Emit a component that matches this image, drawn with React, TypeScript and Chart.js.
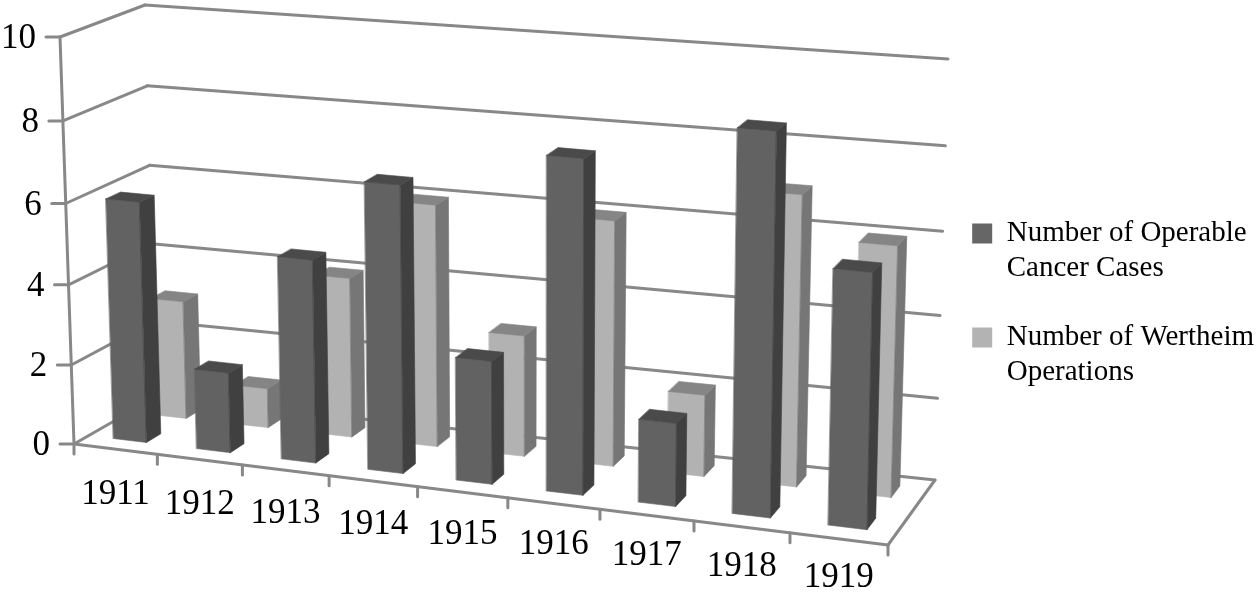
import React, { useEffect, useRef } from "react";
import { Chart, registerables } from "chart.js";

Chart.register(...registerables);

const categories = ["1911", "1912", "1913", "1914", "1915", "1916", "1917", "1918", "1919"];
const operableCases = [6, 2, 5, 7, 3, 8, 2, 9, 6];
const wertheimOps = [3, 1, 4, 6, 3, 6, 2, 7, 6];
const seriesNames = [["Number of Operable", "Cancer Cases"], ["Number of Wertheim", "Operations"]];

type P = [number, number];
// perspective frame of the 3-D box: [front/back][left/right][bottom/top]
const FBL: P = [74, 444], FBR: P = [888, 545], FTL: P = [60, 37], FTR: P = [898, 105];
const BBL: P = [156, 397], BBR: P = [935, 480], BTL: P = [145, 5], BTR: P = [948, 59];
const GRID = "#888888";
const FACES = [
  { front: "#626262", side: "#404040", top: "#4a4a4a", w0: 0.18, w1: 0.36 },
  { front: "#b2b2b2", side: "#767676", top: "#858585", w0: 0.68, w1: 0.86 },
];
const FORESHORTEN_X = 0.913;
const FORESHORTEN_Y = 0.963;

const lerp = (a: P, b: P, t: number): P => [a[0] + (b[0] - a[0]) * t, a[1] + (b[1] - a[1]) * t];
const warp = (t: number, k: number) => (k * t) / (1 + (k - 1) * t);
function project(u: number, v: number, w: number): P {
  const U = warp(u, FORESHORTEN_X);
  const V = warp(v, FORESHORTEN_Y);
  const front = lerp(lerp(FBL, FBR, U), lerp(FTL, FTR, U), V);
  const back = lerp(lerp(BBL, BBR, U), lerp(BTL, BTR, U), V);
  return lerp(front, back, w);
}

const box3d = {
  id: "box3d",
  beforeDatasetsDraw(chart: any) {
    const { ctx } = chart;
    const xs = chart.scales.x;
    const ys = chart.scales.y;
    const nx = (px: number) => (px - xs.left) / xs.width;
    const ny = (py: number) => (ys.bottom - py) / ys.height;
    const line = (a: P, b: P) => {
      ctx.beginPath();
      ctx.moveTo(a[0], a[1]);
      ctx.lineTo(b[0], b[1]);
      ctx.stroke();
    };
    const poly = (pts: P[], c: string) => {
      ctx.fillStyle = c;
      ctx.strokeStyle = c;
      ctx.lineWidth = 0.6;
      ctx.beginPath();
      pts.forEach((p, i) => (i ? ctx.lineTo(p[0], p[1]) : ctx.moveTo(p[0], p[1])));
      ctx.closePath();
      ctx.fill();
      ctx.stroke();
    };
    ctx.save();
    ctx.lineCap = "round";
    ctx.strokeStyle = GRID;
    ctx.lineWidth = 3;
    // walls, gridlines
    ys.ticks.forEach((t: any) => {
      const v = ny(ys.getPixelForValue(t.value));
      const a = project(0, v, 0), b = project(0, v, 1), c = project(1, v, 1);
      line(a, b);
      line(b, c);
      line([a[0] - 14, a[1]], a);
      ctx.save();
      ctx.fillStyle = "#000";
      ctx.font = "35px 'Liberation Serif'";
      ctx.textAlign = "right";
      ctx.textBaseline = "middle";
      ctx.fillText(String(t.value), a[0] - 24, a[1] + 2);
      ctx.restore();
    });
    // axes and floor
    line(project(0, 0, 0), project(0, 1, 0));
    line(project(0, 0, 0), project(1, 0, 0));
    line(project(1, 0, 0), project(1, 0, 1));
    categories.forEach((_, i) => {
      const p = project(i / categories.length, 0, 0);
      line(p, [p[0], p[1] + 10]);
    });
    const last = project(1, 0, 0);
    line(last, [last[0], last[1] + 10]);
    // category labels
    ctx.fillStyle = "#000";
    ctx.font = "35px 'Liberation Serif'";
    ctx.textAlign = "center";
    ctx.textBaseline = "middle";
    xs.ticks.forEach((t: any, i: number) => {
      const u = nx(xs.getPixelForTick(i));
      const p = project(u, 0, 0);
      ctx.fillText(xs.getLabelForValue(t.value), p[0], p[1] + 46 - 7 * u);
    });
    // bars: back row first
    [1, 0].forEach((d) => {
      const f = FACES[d];
      chart.getDatasetMeta(d).data.forEach((el: any) => {
        const u0 = nx(el.x - el.width / 2), u1 = nx(el.x + el.width / 2);
        const v = ny(el.y), v0 = ny(el.base);
        poly([project(u0, v0, f.w0), project(u1, v0, f.w0), project(u1, v, f.w0), project(u0, v, f.w0)], f.front);
        poly([project(u1, v0, f.w0), project(u1, v0, f.w1), project(u1, v, f.w1), project(u1, v, f.w0)], f.side);
        poly([project(u0, v, f.w0), project(u1, v, f.w0), project(u1, v, f.w1), project(u0, v, f.w1)], f.top);
      });
    });
    ctx.restore();
    return false;
  },
};

export default function App() {
  const ref = useRef<HTMLCanvasElement>(null);
  useEffect(() => {
    document.body.style.margin = "0";
    const chart = new Chart(ref.current as HTMLCanvasElement, {
      type: "bar",
      plugins: [box3d],
      data: {
        labels: categories,
        datasets: [
          { label: "cases", data: operableCases, backgroundColor: "#666666", grouped: false, barPercentage: 0.4, categoryPercentage: 1 },
          { label: "ops", data: wertheimOps, backgroundColor: "#b3b3b3", grouped: false, barPercentage: 0.4, categoryPercentage: 1 },
        ] as any,
      },
      options: {
        animation: false,
        responsive: false,
        layout: { padding: { top: 12, right: -7 } },
        scales: {
          x: { display: false },
          y: { display: false, min: 0, max: 10, ticks: { stepSize: 2 } },
        },
        plugins: {
          tooltip: { enabled: false },
          legend: {
            position: "right",
            labels: {
              boxWidth: 20,
              boxHeight: 20,
              padding: 34,
              color: "#000",
              font: { family: "'Liberation Serif'", size: 29, lineHeight: 35 / 29 },
              generateLabels: (c: any) =>
                c.data.datasets.map((ds: any, i: number) => ({
                  text: seriesNames[i],
                  fillStyle: ds.backgroundColor,
                  strokeStyle: ds.backgroundColor,
                  lineWidth: 0,
                  datasetIndex: i,
                })),
            },
          },
        },
      } as any,
    });
    return () => chart.destroy();
  }, []);
  return <canvas ref={ref} width={1257} height={600} style={{ display: "block" }} />;
}
